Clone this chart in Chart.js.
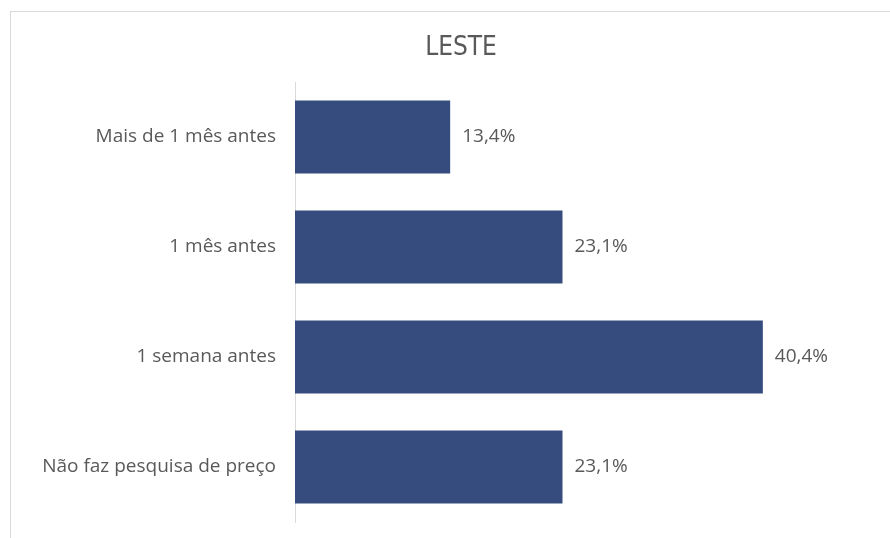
<!DOCTYPE html>
<html>
<head>
<meta charset="utf-8">
<script src="https://cdn.jsdelivr.net/npm/chart.js@4"></script>
<style>
  html, body { margin: 0; padding: 0; background: #fff; overflow: hidden; }
  #frame { position: absolute; left: 10px; top: 11px; width: 900px; height: 600px;
           border-left: 1px solid #d9d9d9; border-top: 1px solid #d9d9d9; }
  #wrap { position: absolute; left: 0; top: 0; width: 890px; height: 538px; }
</style>
</head>
<body>
<div id="frame"></div>
<div id="wrap"><canvas id="c" width="890" height="538"></canvas></div>
<script>
const titleText = "LESTE";
const categories = ["Mais de 1 mês antes", "1 mês antes", "1 semana antes", "Não faz pesquisa de preço"];
const values = [13.4, 23.1, 40.4, 23.1];

const fmt = v => v.toFixed(1).replace('.', ',') + '%';

const valueLabels = {
  id: 'valueLabels',
  afterDatasetsDraw(chart) {
    const ctx = chart.ctx;
    const meta = chart.getDatasetMeta(0);
    ctx.save();
    ctx.font = '19px "Open Sans", sans-serif';
    ctx.fillStyle = '#595959';
    ctx.textAlign = 'left';
    ctx.textBaseline = 'middle';
    meta.data.forEach((bar, i) => {
      ctx.fillText(fmt(values[i]), bar.x + 12, bar.y);
    });
    ctx.restore();
  }
};

const chartTitle = {
  id: 'chartTitle',
  afterDraw(chart) {
    const ctx = chart.ctx;
    ctx.save();
    ctx.font = '26px "DejaVu Sans Condensed", "DejaVu Sans", sans-serif';
    ctx.fillStyle = '#595959';
    ctx.textAlign = 'center';
    ctx.textBaseline = 'alphabetic';
    ctx.fillText(titleText, 461, 55);
    ctx.restore();
  }
};

new Chart(document.getElementById('c'), {
  type: 'bar',
  data: {
    labels: categories,
    datasets: [{
      data: values,
      backgroundColor: '#364C7F',
      borderWidth: 0,
      barPercentage: 0.664,
      categoryPercentage: 1
    }]
  },
  options: {
    indexAxis: 'y',
    responsive: false,
    animation: false,
    layout: { padding: { top: 82, right: 16, bottom: 16, left: 0 } },
    plugins: {
      legend: { display: false },
      tooltip: { enabled: false },
      title: { display: false }
    },
    scales: {
      x: { display: false, min: 0, max: 50 },
      y: {
        grid: { display: false, drawTicks: false },
        border: { display: true, color: '#d9d9d9', width: 1 },
        ticks: {
          color: '#595959',
          padding: 19,
          font: { family: '"Open Sans", sans-serif', size: 19 }
        },
        afterFit(scale) {
          scale.width = 295;
          scale.paddingTop = 0;
          scale.paddingBottom = 0;
        }
      }
    }
  },
  plugins: [valueLabels, chartTitle]
});
</script>
</body>
</html>
